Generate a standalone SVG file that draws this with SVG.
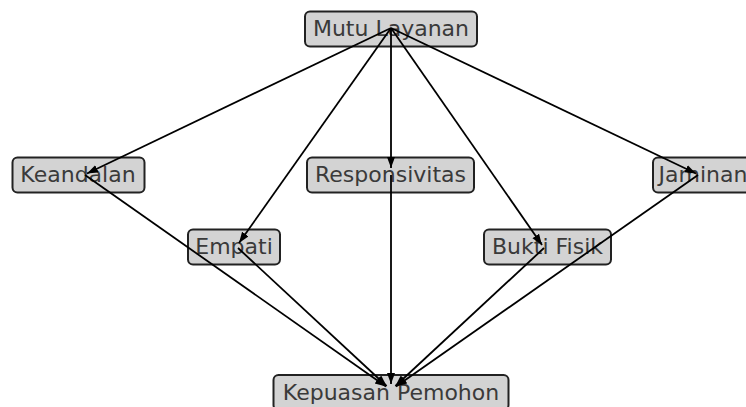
<svg xmlns="http://www.w3.org/2000/svg" width="746" height="407" viewBox="0 0 746 407">
<style>
.box{fill:#d3d3d3;stroke:#222;stroke-width:2}
.lbl{font-family:"DejaVu Sans",sans-serif;font-size:22px;fill:#3a3a3a;text-anchor:middle}
.edge{stroke:#000;stroke-width:1.8;fill:none;marker-end:url(#ah)}
</style>
<defs>
<marker id="ah" markerUnits="userSpaceOnUse" markerWidth="12" markerHeight="9" refX="11" refY="4" orient="auto">
<path d="M0,0 L11,4 L0,8 z" fill="#000"/>
</marker>
</defs>
<rect width="746" height="407" fill="#fff"/>
<g id="node-mutu"><rect class="box" x="305" y="11.5" width="172" height="35" rx="5"/><text class="lbl" x="391" y="36">Mutu Layanan</text></g>
<g id="node-keandalan"><rect class="box" x="12.5" y="157.5" width="132" height="35" rx="5"/><text class="lbl" x="78" y="182">Keandalan</text></g>
<g id="node-responsivitas"><rect class="box" x="307" y="157.5" width="167" height="35" rx="5"/><text class="lbl" x="390.5" y="182">Responsivitas</text></g>
<g id="node-jaminan"><rect class="box" x="653" y="157.5" width="100" height="35" rx="5"/><text class="lbl" x="703" y="182">Jaminan</text></g>
<g id="node-empati"><rect class="box" x="188" y="229.5" width="92" height="35" rx="5"/><text class="lbl" x="234" y="254">Empati</text></g>
<g id="node-bukti"><rect class="box" x="484" y="229.5" width="127" height="35" rx="5"/><text class="lbl" x="547.5" y="254">Bukti Fisik</text></g>
<g id="node-kepuasan"><rect class="box" x="273.5" y="375" width="235" height="35" rx="5"/><text class="lbl" x="391" y="400">Kepuasan Pemohon</text></g>
<g id="connectors">
<line class="edge" x1="391" y1="28" x2="87" y2="173.5"/>
<line class="edge" x1="391" y1="28" x2="391" y2="168"/>
<line class="edge" x1="391" y1="28" x2="696" y2="173.5"/>
<line class="edge" x1="391" y1="28" x2="239" y2="243"/>
<line class="edge" x1="391" y1="28" x2="542" y2="245"/>
<line class="edge" x1="85" y1="175" x2="386" y2="386.5"/>
<line class="edge" x1="238" y1="248" x2="386.6" y2="386"/>
<line class="edge" x1="391" y1="175" x2="391" y2="384"/>
<line class="edge" x1="544" y1="248" x2="395.4" y2="386"/>
<line class="edge" x1="698" y1="175" x2="396" y2="386.5"/>
</g>
</svg>
